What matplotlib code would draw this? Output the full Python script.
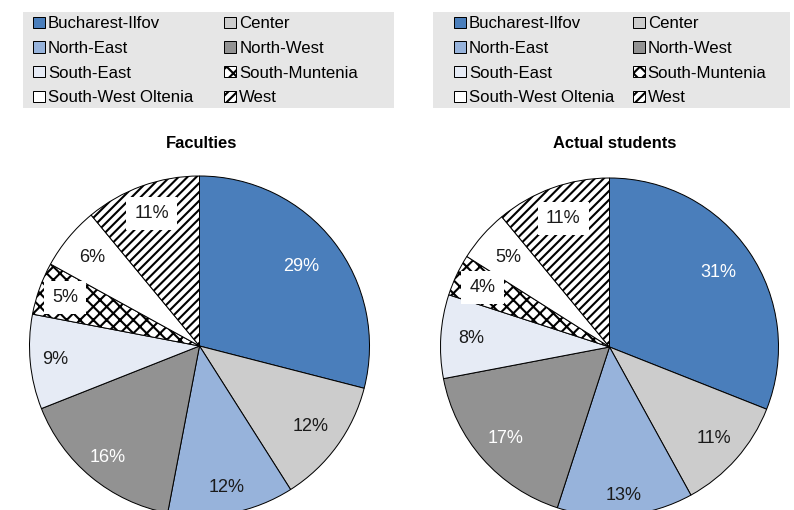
import numpy as np
import matplotlib
matplotlib.use("Agg")
import matplotlib.pyplot as plt
from matplotlib.patches import Rectangle

regions = ["Bucharest-Ilfov", "North-East", "South-East", "South-West Oltenia",
           "Center", "North-West", "South-Muntenia", "West"]
# pie order (clockwise from 12 o'clock)
pie_order = ["Bucharest-Ilfov", "Center", "North-East", "North-West",
             "South-East", "South-Muntenia", "South-West Oltenia", "West"]
faculties = [29, 12, 12, 16, 9, 5, 6, 11]
students = [31, 11, 13, 17, 8, 4, 5, 11]
titles = ["Faculties", "Actual students"]

colors = {"Bucharest-Ilfov": "#4A7EBB", "Center": "#CCCCCC", "North-East": "#97B3DB",
          "North-West": "#929292", "South-East": "#E6EBF5", "South-Muntenia": "white",
          "South-West Oltenia": "white", "West": "white"}
hatches = {"South-Muntenia": "xx", "West": "///"}
white_text = {"Bucharest-Ilfov", "North-West"}

DPI = 80
W, H = 794, 510


def pt(px):
    return px * 72 / DPI


plt.rcParams["font.family"] = ["Liberation Sans", "DejaVu Sans"]
plt.rcParams["hatch.linewidth"] = pt(2.1)

fig = plt.figure(figsize=(W / DPI, H / DPI), dpi=DPI)

pies = [
    dict(vals=faculties, cx=199.5, cy=346, r=170, title_x=202, title_y=143,
         dist=[0.76, 0.81, 0.85, 0.85, 0.85, 0.84, 0.82, 0.83],
         bg=(23, 394), lx=31, colsp=1.85),
    dict(vals=students, cx=609.5, cy=347, r=169, title_x=615, title_y=144,
         dist=[0.78, 0.82, 0.88, 0.82, 0.82, 0.83, 0.80, 0.81],
         bg=(433, 790), lx=452, colsp=1.1),
]

for p, title in zip(pies, titles):
    ax = fig.add_axes([(p["cx"] - p["r"]) / W, (H - p["cy"] - p["r"]) / H,
                       2 * p["r"] / W, 2 * p["r"] / H])
    wedges, _ = ax.pie(p["vals"], colors=[colors[n] for n in pie_order],
                       startangle=90, counterclock=False, radius=1,
                       wedgeprops=dict(edgecolor="black", linewidth=pt(1.0)))
    for w, n in zip(wedges, pie_order):
        if n in hatches:
            w.set_hatch(hatches[n])
    ax.set_xlim(-1, 1)
    ax.set_ylim(-1, 1)
    ax.axis("off")

    for w, n, v, d in zip(wedges, pie_order, p["vals"], p["dist"]):
        ang = np.deg2rad((w.theta1 + w.theta2) / 2)
        kw = {}
        if n in hatches:
            kw["bbox"] = dict(boxstyle="square,pad=0.45", fc="white", ec="none")
        ax.text(d * np.cos(ang), d * np.sin(ang), f"{v}%", ha="center", va="center",
                fontsize=pt(18), color="white" if n in white_text else "#1a1a1a", **kw)

    fig.text(p["title_x"] / W, 1 - p["title_y"] / H, title, ha="center", va="center",
             fontsize=pt(16.5), fontweight="bold")

    fig.add_artist(Rectangle((p["bg"][0] / W, 1 - 108 / H), (p["bg"][1] - p["bg"][0]) / W,
                             96 / H, transform=fig.transFigure, facecolor="#E6E6E6",
                             edgecolor="none", zorder=0))
    handles = [wedges[pie_order.index(n)] for n in regions]
    fig.legend(handles, regions, loc="upper left",
               bbox_to_anchor=(p["lx"] / W, 1 - 14.5 / H), ncol=2, frameon=False,
               fontsize=pt(16.8), borderpad=0.1, handlelength=0.72, handleheight=0.64,
               handletextpad=0.18, labelspacing=0.58, columnspacing=p["colsp"],
               borderaxespad=0)

fig.savefig("out.png", dpi=DPI)
